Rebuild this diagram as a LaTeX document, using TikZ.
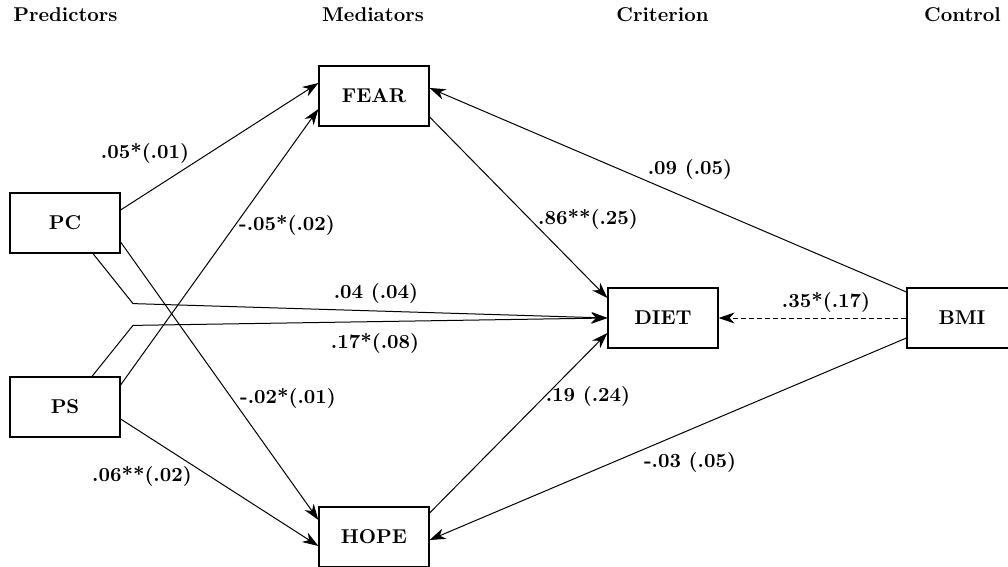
\documentclass[tikz,border=0pt]{standalone}
\usetikzlibrary{arrows.meta,calc}
\begin{document}
\begin{tikzpicture}[x=0.5pt,y=-0.5pt,
  varbox/.style={draw,line width=0.6pt,minimum width=55pt,minimum height=30pt,inner sep=0pt,font=\bfseries},
  header/.style={anchor=base,inner sep=0pt,font=\bfseries},
  coef/.style={inner sep=0pt,font=\bfseries},
  path/.style={line width=0.5pt,-{Stealth[length=8pt,width=5.5pt,inset=2.5pt]}},
  ctrl/.style={path,dash pattern=on 2.5pt off 1.5pt}]
\useasboundingbox (0,0) rectangle (1008,567);
% headers
\node[header] (hpred) at (65.5,22) {Predictors};
\node[header] (hmed) at (373,22) {Mediators};
\node[header] (hcrit) at (662.5,22) {Criterion};
\node[header] (hctrl) at (962.5,22) {Control};
% boxes
\node[varbox] (pc) at (65,223) {PC};
\node[varbox] (ps) at (65,407) {PS};
\node[varbox] (fear) at (374,96) {FEAR};
\node[varbox] (hope) at (374,537) {HOPE};
\node[varbox] (diet) at (663,318) {DIET};
\node[varbox] (bmi) at (962,318) {BMI};
% bend points
\coordinate (pcbend) at ($(pc.south)+(68,50)$);
\coordinate (psbend) at ($(ps.north)+(68,-51)$);
% connectors
\draw[path] ($(pc.east)+(0,-13)$) -- ($(fear.west)+(0,-13)$);
\draw[path] ($(ps.east)+(0,-22)$) -- ($(fear.west)+(0,13)$);
\draw[path] ($(pc.east)+(0,19)$) -- ($(hope.west)+(0,-17)$);
\draw[path] ($(ps.east)+(0,12)$) -- ($(hope.west)+(0,9)$);
\draw[path] ($(pc.south)+(28,0)$) -- (pcbend) -- (diet.west);
\draw[path] ($(ps.north)+(27,0)$) -- (psbend) -- (diet.west);
\draw[path] ($(fear.east)+(0,21)$) -- ($(diet.west)+(0,-20)$);
\draw[path] ($(hope.east)+(0,-24)$) -- ($(diet.west)+(0,15)$);
\draw[path] ($(bmi.west)+(0,-26)$) -- ($(fear.east)+(0,-8)$);
\draw[path] ($(bmi.west)+(0,20)$) -- ($(hope.east)+(0,3)$);
\draw[ctrl] (bmi.west) -- (diet.east);
% coefficients
\node[coef] (c1) at (145,153) {.05*(.01)};
\node[coef] (c2) at (287,225) {-.05*(.02)};
\node[coef] (c3) at (288,398) {-.02*(.01)};
\node[coef] (c4) at (142,476) {.06**(.02)};
\node[coef] (c5) at (376,293) {.04 (.04)};
\node[coef] (c6) at (375,343) {.17*(.08)};
\node[coef] (c7) at (588,219) {.86**(.25)};
\node[coef] (c8) at (588,396) {.19 (.24)};
\node[coef] (c9) at (690,169) {.09 (.05)};
\node[coef] (c10) at (690,462) {-.03 (.05)};
\node[coef] (c11) at (826,302) {.35*(.17)};
\end{tikzpicture}
\end{document}
